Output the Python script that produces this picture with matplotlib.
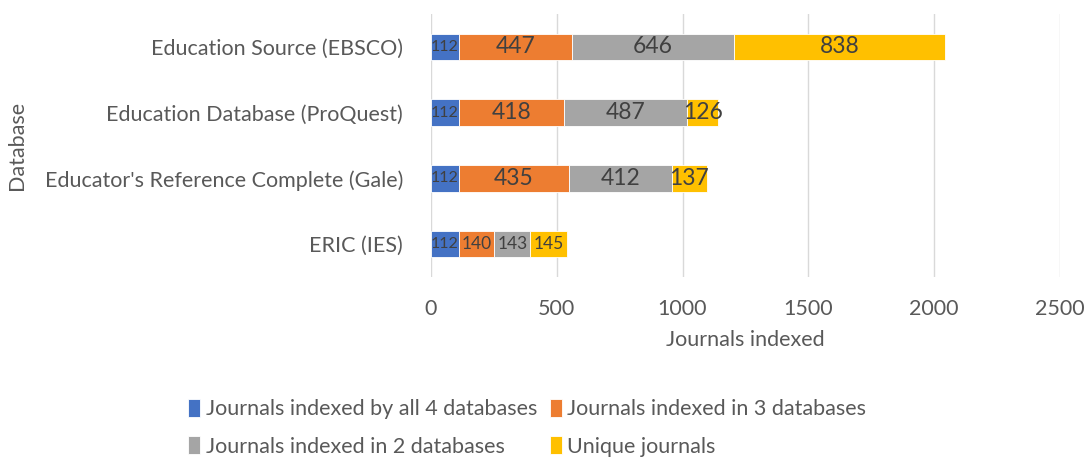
import numpy as np
import matplotlib.pyplot as plt

plt.rcParams['font.family'] = ['Lato', 'DejaVu Sans']

databases = ["Education Source (EBSCO)", "Education Database (ProQuest)",
             "Educator's Reference Complete (Gale)", "ERIC (IES)"]
series_names = ["Journals indexed by all 4 databases", "Journals indexed in 3 databases",
                "Journals indexed in 2 databases", "Unique journals"]
all_four = [112, 112, 112, 112]
in_three = [447, 418, 435, 140]
in_two = [646, 487, 412, 143]
unique = [838, 126, 137, 145]
xticks = [0, 500, 1000, 1500, 2000, 2500]

colors = ["#4472C4", "#ED7D31", "#A5A5A5", "#FFC000"]
TXT = "#404040"
GREY = "#595959"
FS = 15.5

fig = plt.figure(figsize=(10.87, 4.59), dpi=100)
ax = fig.add_axes([0.3965, 0.3965, 0.5785, 0.573])

y = np.arange(len(databases))
left = np.zeros(len(databases))
for name, vals, c in zip(series_names, [all_four, in_three, in_two, unique], colors):
    vals = np.array(vals)
    bars = ax.barh(y, vals, left=left, height=0.4, color=c, edgecolor="white",
                   linewidth=0.6, label=name, zorder=3)
    for b, v, yi in zip(bars, vals, y):
        # Excel shrank the labels that did not fit their segment
        if v < 120:
            fs = 11.5
        elif yi == 3:
            fs = 12.5
        else:
            fs = 16.5
        ax.text(b.get_x() + b.get_width() / 2, yi, str(v), ha="center", va="center",
                fontsize=fs, color=TXT, zorder=4)
    left = left + vals

ax.set_ylim(3.5, -0.5)
ax.set_xlim(0, 2500)
ax.set_xticks(xticks)
ax.set_yticks(y)
ax.set_yticklabels(databases)
ax.tick_params(axis="both", length=0, labelsize=FS, labelcolor=GREY)
ax.tick_params(axis="x", pad=16)
ax.tick_params(axis="y", pad=20)
ax.grid(axis="x", color="#D9D9D9", linewidth=1, zorder=0)
for s in ax.spines.values():
    s.set_visible(False)

ax.set_xlabel("Journals indexed", fontsize=FS, color=GREY, labelpad=8)
fig.text(0.016, 0.683, "Database", rotation=90, ha="center", va="center",
         fontsize=FS, color=GREY)

# legend fills row by row, like the original
handles, labels = ax.get_legend_handles_labels()
order = [0, 2, 1, 3]
fig.legend([handles[i] for i in order], [labels[i] for i in order],
           loc="center", bbox_to_anchor=(0.485, 0.068), ncol=2,
           frameon=False, fontsize=FS, labelcolor=GREY, handlelength=0.55,
           handleheight=0.9, handletextpad=0.25, columnspacing=0.6, labelspacing=0.8)

fig.savefig("out.png", dpi=100)
